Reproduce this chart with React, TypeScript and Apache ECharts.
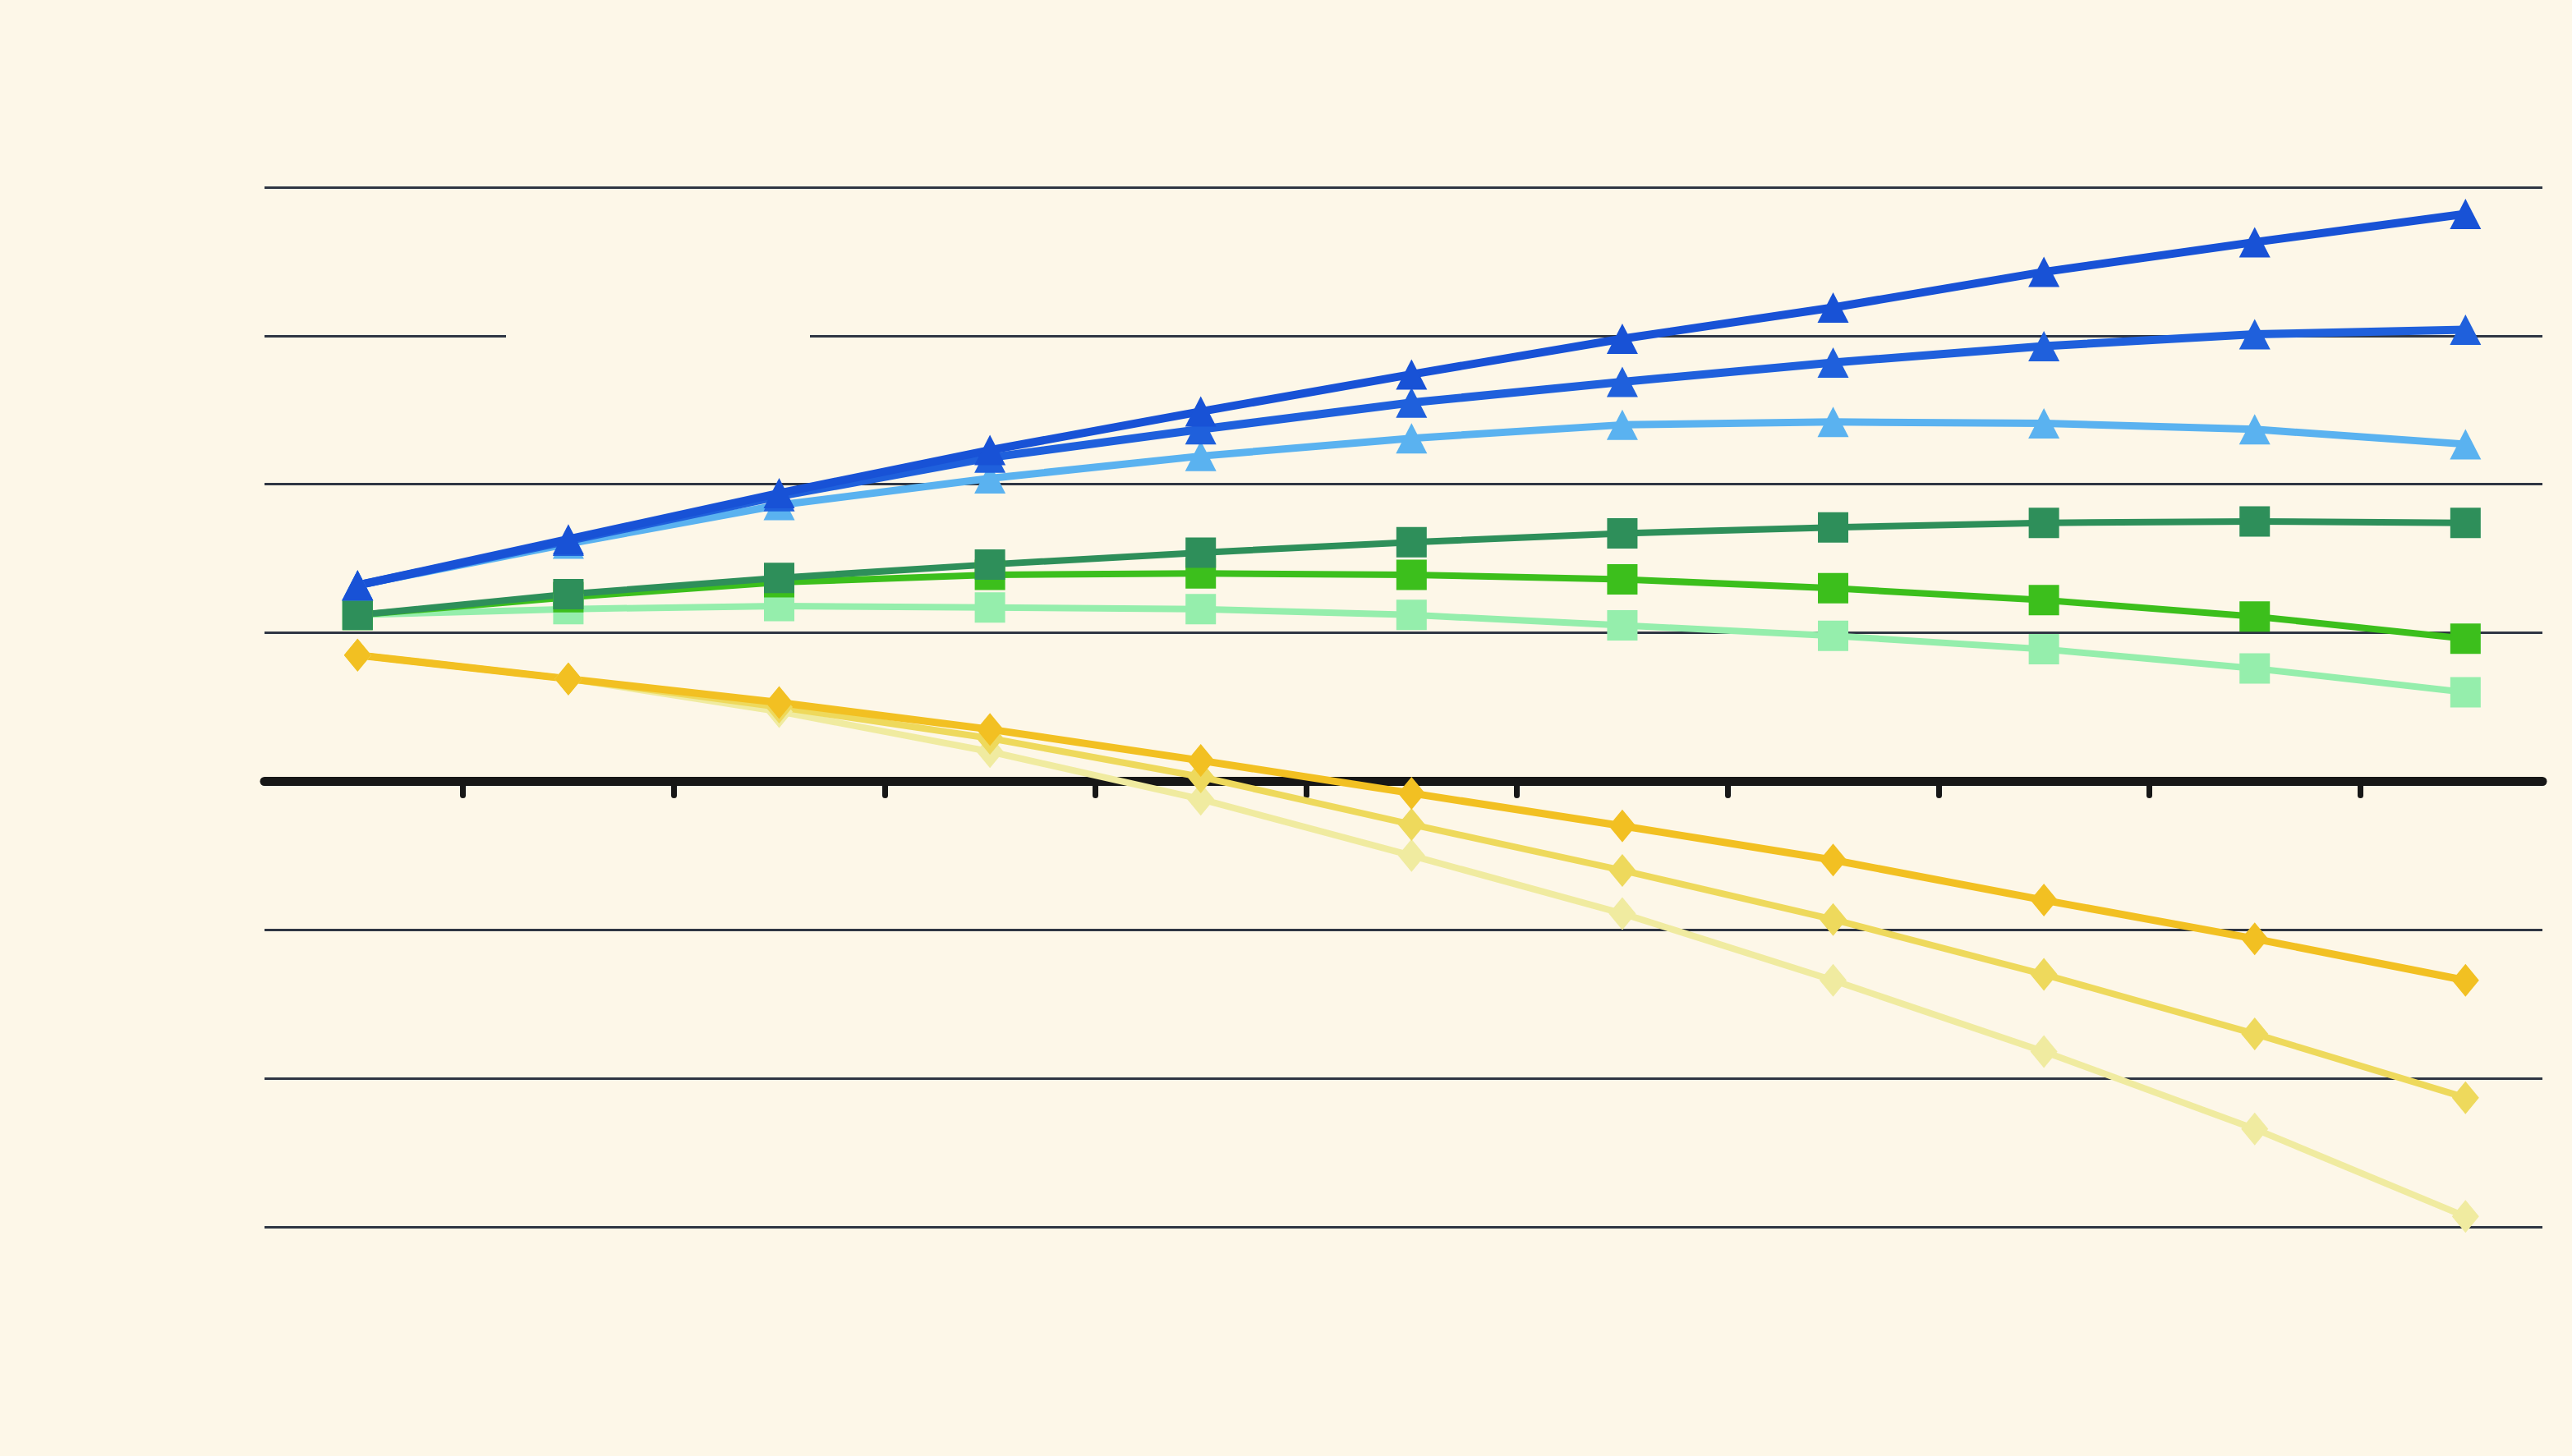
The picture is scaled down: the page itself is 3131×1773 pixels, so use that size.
import React, { useEffect, useRef } from "react";
import * as echarts from "echarts";

const xIndex = [0, 1, 2, 3, 4, 5, 6, 7, 8, 9, 10];
const tickPositions = [0.5, 1.5, 2.5, 3.5, 4.5, 5.5, 6.5, 7.5, 8.5, 9.5];

const darkBlue = [1.32, 1.63, 1.94, 2.23, 2.49, 2.74, 2.98, 3.19, 3.43, 3.63, 3.82];
const midBlue = [1.32, 1.62, 1.92, 2.18, 2.37, 2.55, 2.69, 2.82, 2.93, 3.01, 3.04];
const lightBlue = [1.32, 1.6, 1.86, 2.04, 2.19, 2.31, 2.4, 2.42, 2.41, 2.37, 2.27];
const darkGreen = [1.12, 1.26, 1.37, 1.46, 1.54, 1.61, 1.67, 1.71, 1.74, 1.75, 1.74];
const brightGreen = [1.12, 1.24, 1.34, 1.39, 1.4, 1.39, 1.36, 1.3, 1.22, 1.11, 0.96];
const lightGreen = [1.12, 1.16, 1.18, 1.17, 1.16, 1.12, 1.05, 0.98, 0.89, 0.76, 0.6];
const orangeYellow = [0.85, 0.69, 0.53, 0.35, 0.14, -0.08, -0.3, -0.53, -0.8, -1.06, -1.34];
const midYellow = [0.85, 0.69, 0.5, 0.29, 0.03, -0.29, -0.6, -0.93, -1.3, -1.7, -2.13];
const paleYellow = [0.85, 0.69, 0.47, 0.2, -0.12, -0.5, -0.89, -1.34, -1.82, -2.34, -2.93];

const BG = "#fdf7e8";

function mk(values: number[], color: string, symbol: string, size: number[] | number, width: number) {
  return {
    type: "line",
    data: values.map((v, i) => [xIndex[i], v]),
    symbol,
    symbolSize: size,
    showSymbol: true,
    lineStyle: { color, width, cap: "round", join: "round" },
    itemStyle: { color, borderWidth: 0 },
    emphasis: { disabled: true },
    silent: true,
  };
}

export default function App() {
  const ref = useRef<HTMLDivElement>(null);
  useEffect(() => {
    document.body.style.margin = "0";
    document.body.style.overflow = "hidden";
    document.body.style.background = BG;
    const chart = echarts.init(ref.current!, undefined, { renderer: "svg" });
    chart.setOption({
      animation: false,
      backgroundColor: BG,
      grid: { left: 322, right: 36, top: 228, bottom: 279, containLabel: false },
      xAxis: {
        type: "value",
        min: -0.4415,
        max: 10.365,
        splitLine: { show: false },
        axisLabel: { show: false },
        axisLine: { show: true, onZero: true, lineStyle: { color: "#171717", width: 11 } },
        axisTick: {
          show: true,
          customValues: tickPositions,
          length: 17,
          lineStyle: { color: "#171717", width: 7, cap: "round" },
        },
      },
      yAxis: {
        type: "value",
        min: -3,
        max: 4,
        interval: 1,
        axisLine: { show: false },
        axisTick: { show: false },
        axisLabel: { show: false },
        splitLine: { show: true, lineStyle: { color: "#2f3643", width: 3 } },
      },
      graphic: [
        {
          type: "rect",
          shape: { x: 616, y: 401, width: 370, height: 16 },
          style: { fill: BG },
          z: 5,
        },
      ],
      series: [
        mk(paleYellow, "#f0eba0", "diamond", [33, 40], 8),
        mk(midYellow, "#eed95c", "diamond", [33, 40], 8),
        mk(orangeYellow, "#f2c022", "diamond", [33, 40], 9),
        mk(lightGreen, "#95eeac", "rect", 37, 8),
        mk(brightGreen, "#3cbf1c", "rect", 37, 8),
        mk(darkGreen, "#2e8f5a", "rect", 37, 8),
        mk(lightBlue, "#5ab2f0", "triangle", [38, 37], 9),
        mk(midBlue, "#1f60dc", "triangle", [38, 37], 10),
        mk(darkBlue, "#1852d6", "triangle", [38, 37], 10),
      ],
    });
    return () => chart.dispose();
  }, []);
  return <div ref={ref} style={{ width: 3131, height: 1773 }} />;
}
